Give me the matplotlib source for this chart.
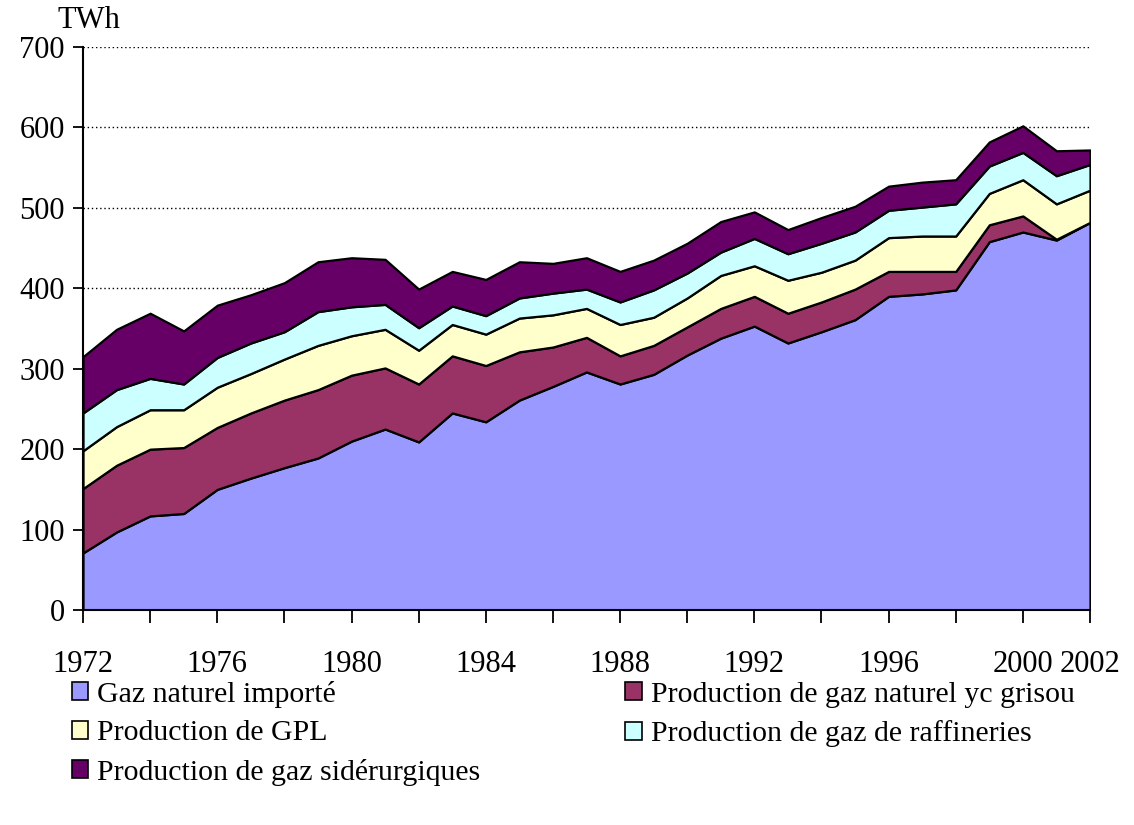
import matplotlib.pyplot as plt
from matplotlib.patches import Patch

years = list(range(1972, 2003))

# TWh par source
gaz_importe = [71, 97, 117, 120, 150, 164, 177, 189, 210, 225,
               209, 245, 234, 261, 278, 296, 281, 293, 317, 338,
               353, 332, 346, 361, 390, 393, 398, 458, 470, 460, 482]
gaz_naturel = [80, 83, 83, 82, 77, 81, 84, 85, 82, 76,
               72, 71, 70, 60, 49, 43, 35, 36, 35, 37,
               37, 37, 37, 38, 31, 28, 23, 21, 20, 1, 0]
gpl = [47, 48, 49, 47, 50, 49, 51, 55, 49, 48,
       42, 39, 39, 42, 40, 36, 39, 35, 36, 41,
       38, 41, 37, 36, 42, 44, 44, 39, 45, 44, 40]
raffineries = [47, 46, 39, 32, 37, 38, 34, 42, 36, 31,
               28, 23, 23, 25, 27, 24, 28, 34, 31, 29,
               34, 33, 36, 35, 34, 36, 40, 34, 34, 35, 32]
siderurgie = [70, 75, 81, 66, 65, 60, 61, 62, 61, 56,
              48, 43, 45, 45, 37, 39, 38, 37, 37, 38,
              33, 30, 32, 32, 30, 31, 30, 30, 33, 31, 18]

labels = ["Gaz naturel importé", "Production de gaz naturel yc grisou",
          "Production de GPL", "Production de gaz de raffineries",
          "Production de gaz sidérurgiques"]
colors = ["#9999FF", "#993366", "#FFFFCC", "#CCFFFF", "#660066"]

xtick_labels = [1972, 1976, 1980, 1984, 1988, 1992, 1996, 2000, 2002]

plt.rcParams['font.family'] = ['Liberation Serif', 'DejaVu Serif']

fig = plt.figure(figsize=(11.34, 8.25), dpi=100)
ax = fig.add_axes([0.0732, 0.2606, 0.888, 0.6824])

ax.stackplot(years, gaz_importe, gaz_naturel, gpl, raffineries, siderurgie,
             colors=colors, edgecolor='black', linewidth=1.6, zorder=3)

ax.set_xlim(1972, 2002)
ax.set_ylim(0, 700)
ax.set_yticks(range(0, 701, 100))
ax.yaxis.grid(True, linestyle=(0, (1, 2)), color='black', linewidth=1.0, zorder=0)
ax.set_axisbelow(True)

ax.set_xticks(range(1972, 2003, 2))
ax.set_xticklabels([str(y) if y in xtick_labels else "" for y in range(1972, 2003, 2)])

for s in ['top', 'right']:
    ax.spines[s].set_visible(False)
for s in ['left', 'bottom']:
    ax.spines[s].set_linewidth(1.5)
    ax.spines[s].set_zorder(5)

ax.tick_params(axis='x', direction='out', length=9, width=1.3, pad=20, labelsize=22)
ax.tick_params(axis='y', direction='out', length=7, width=1.3, pad=6, labelsize=22)

fig.text(0.051, 0.957, "TWh", fontsize=22, ha='left', va='bottom')

handles = [Patch(facecolor=c, edgecolor='black', linewidth=1.2) for c in colors]
order = [0, 2, 4, 1, 3]
fig.legend([handles[i] for i in order], [labels[i] for i in order],
           loc='upper left', bbox_to_anchor=(0.0635, 0.175), ncol=2,
           frameon=False, fontsize=21.5, handlelength=0.55, handleheight=0.55,
           handletextpad=0.3, columnspacing=4.85, labelspacing=0.42,
           borderaxespad=0, borderpad=0)

fig.savefig("out.png", dpi=100)
